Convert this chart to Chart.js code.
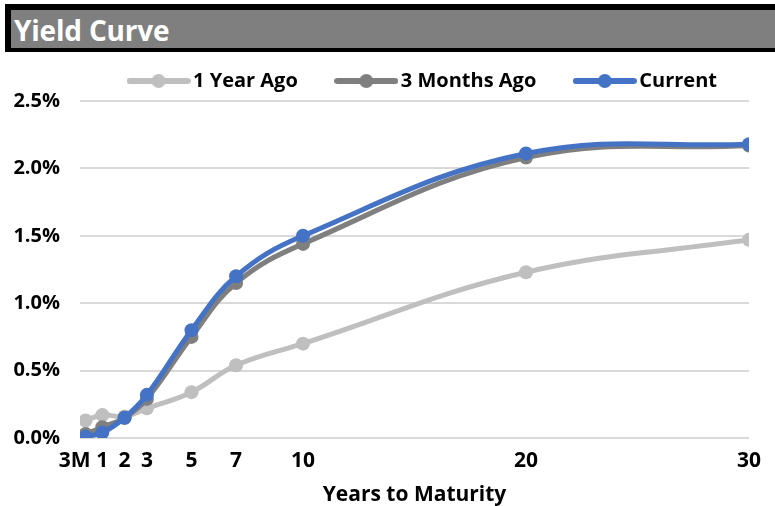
<!DOCTYPE html>
<html>
<head>
<meta charset="utf-8">
<script src="https://cdn.jsdelivr.net/npm/chart.js@4/dist/chart.umd.min.js"></script>
<style>
  html, body { margin: 0; padding: 0; background: #fff; }
  #wrap { position: relative; width: 775px; height: 506px; overflow: hidden; }
  #titleBar {
    position: absolute; left: 5px; top: 4px; width: 790px; height: 38px;
    background: #7f7f7f; border: 6px solid #000; border-bottom-width: 4px;
    color: #fff; font: bold 28px "Open Sans", sans-serif; line-height: 40px;
    padding-left: 3px; box-sizing: content-box; letter-spacing: -0.2px;
  }
  #chart { position: absolute; left: 0; top: 0; }
</style>
</head>
<body>
<div id="wrap">
  <canvas id="chart" width="775" height="506"></canvas>
  <div id="titleBar">Yield Curve</div>
</div>
<script>
// ==== Data ====
const maturities = [0.25, 1, 2, 3, 5, 7, 10, 20, 30];
const tickYears = [0.25, 1, 2, 3, 5, 7, 10, 20, 30];
const tickNames = ["3M", "1", "2", "3", "5", "7", "10", "20", "30"];
const yearAgo = [0.13, 0.17, 0.16, 0.22, 0.34, 0.54, 0.70, 1.23, 1.47];
const threeMonthsAgo = [0.03, 0.08, 0.15, 0.29, 0.75, 1.15, 1.44, 2.08, 2.17];
const current = [0.01, 0.04, 0.15, 0.32, 0.80, 1.20, 1.50, 2.11, 2.18];

const FONT = "'Open Sans', sans-serif";
const pts = (arr) => arr.map((v, i) => ({ x: maturities[i], y: v }));

// label nudge (Excel puts 3M a bit to the left)
const tickPad = { "3M": "    " };

// ==== Legend marker (line + dot) ====
function legendMarker(color) {
  const c = document.createElement("canvas");
  c.width = 64;
  c.height = 18;
  const g = c.getContext("2d");
  g.strokeStyle = color;
  g.lineWidth = 6;
  g.lineCap = "round";
  g.beginPath();
  g.moveTo(3, 9);
  g.lineTo(61, 9);
  g.stroke();
  g.fillStyle = color;
  g.beginPath();
  g.arc(32, 9, 7, 0, Math.PI * 2);
  g.fill();
  return c;
}

function series(label, data, color) {
  return {
    label,
    data: pts(data),
    borderColor: color,
    backgroundColor: color,
    borderWidth: 5,
    pointRadius: 7,
    pointHoverRadius: 7,
    pointBorderWidth: 0,
    tension: 0.4,
    marker: legendMarker(color)
  };
}

// listed top-most first; legend order reversed below
const datasets = [
  series("Current", current, "#4472c4"),
  series("3 Months Ago", threeMonthsAgo, "#7f7f7f"),
  series("1 Year Ago", yearAgo, "#bfbfbf")
];

// legend sits a little right of centre in the original
const legendShift = {
  id: "legendShift",
  afterLayout(chart) {
    chart.legend.left += 51;
    chart.legend.right += 51;
  }
};

new Chart(document.getElementById("chart"), {
  type: "line",
  data: { datasets },
  plugins: [legendShift],
  options: {
    responsive: false,
    animation: false,
    layout: { padding: { top: 27, right: 26, bottom: 0, left: 0 } },
    plugins: {
      tooltip: { enabled: false },
      legend: {
        position: "top",
        labels: {
          usePointStyle: true,
          pointStyleWidth: 49,
          boxHeight: 18,
          padding: 44,
          color: "#000",
          font: { family: FONT, size: 20, weight: "bold" },
          sort: (a, b) => b.datasetIndex - a.datasetIndex,
          generateLabels: (chart) =>
            Chart.defaults.plugins.legend.labels.generateLabels(chart).map((it) => {
              it.pointStyle = chart.data.datasets[it.datasetIndex].marker;
              return it;
            })
        }
      }
    },
    scales: {
      x: {
        type: "linear",
        min: 0,
        max: 30,
        grid: { display: false, drawTicks: false },
        border: { display: false },
        afterBuildTicks: (s) => { s.ticks = tickYears.map((v) => ({ value: v })); },
        ticks: {
          autoSkip: false,
          maxRotation: 0,
          padding: 13,
          color: "#000",
          font: { family: FONT, size: 21, weight: "bold", lineHeight: 1.0 },
          callback: (v) => {
            const name = tickNames[tickYears.indexOf(v)];
            return name + (tickPad[name] || "");
          }
        },
        title: {
          display: true,
          text: "Years to Maturity",
          color: "#000",
          padding: { top: 0, bottom: 0 },
          font: { family: FONT, size: 21, weight: "bold", lineHeight: 1.0 }
        }
      },
      y: {
        min: 0,
        max: 2.5,
        afterFit: (s) => { s.width = 80; },
        grid: { color: "#d9d9d9", lineWidth: 2, drawTicks: false },
        border: { display: false },
        ticks: {
          stepSize: 0.5,
          padding: 20,
          color: "#000",
          font: { family: FONT, size: 20, weight: "bold" },
          callback: (v) => v.toFixed(1) + "%"
        }
      }
    }
  }
});
</script>
</body>
</html>
